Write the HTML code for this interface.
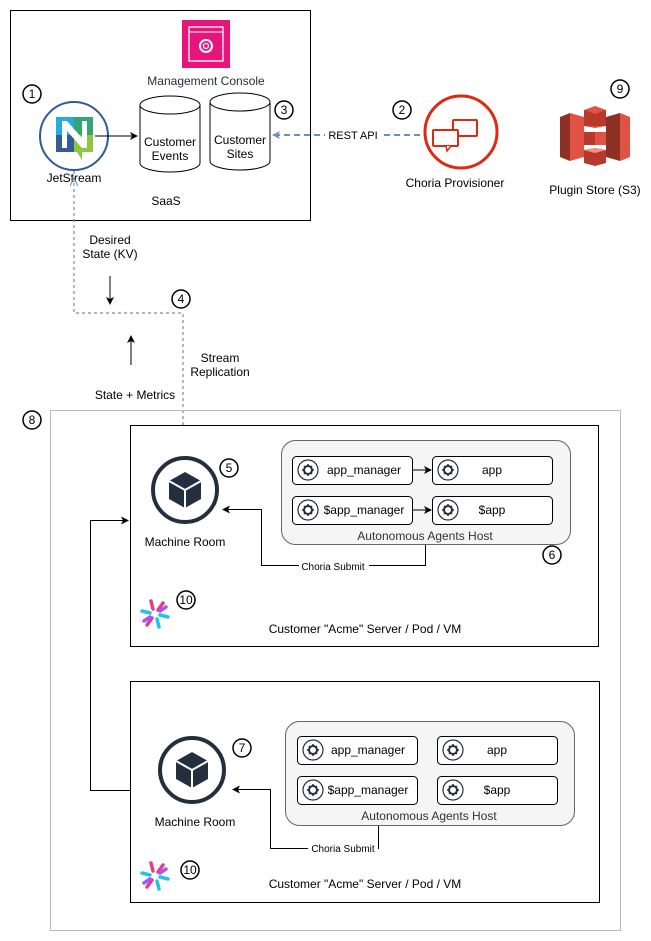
<!DOCTYPE html>
<html><head><meta charset="utf-8"><style>body{margin:0;background:#fff}svg{display:block}text{font-family:"Liberation Sans",sans-serif;font-size:12px;fill:#000}</style></head><body>
<svg width="651" height="941" viewBox="0 0 651 941" xmlns="http://www.w3.org/2000/svg">
<defs>
<marker id="a" markerWidth="8" markerHeight="8" refX="7" refY="4" orient="auto" markerUnits="userSpaceOnUse"><path d="M0,0 L8,4 L0,8 L2,4z" fill="#000"/></marker>
<marker id="b" markerWidth="8" markerHeight="8" refX="7" refY="4" orient="auto" markerUnits="userSpaceOnUse"><path d="M0,0 L8,4 L0,8 L2,4z" fill="#6c8ebf"/></marker>
<g id="gear"><circle r="10" fill="#fff" stroke="#232f3e" stroke-width="1.2"/><circle r="4" fill="none" stroke="#232f3e" stroke-width="2"/><path d="M0,-6V-4M0,4V6M-6,0H-4M4,0H6M-4,-4L-3,-3M3,3L4,4M-4,4L-3,3M3,-3L4,-4" stroke="#232f3e" stroke-width="1.5"/></g>
<g id="num"><circle r="9" fill="#fff" stroke="#000" stroke-width="1.5"/></g>
<g id="cube"><path d="M0,-18 L16,-9 L16,9 L0,18 L-16,9 L-16,-9Z" fill="#232f3e"/><path d="M-16,-9 L0,0 L16,-9 M0,0 V18" stroke="#fff" stroke-width="2" fill="none"/></g>
<g id="spark"><g stroke-width="3.5" stroke-linecap="round"><path d="M-13,-3 L-5,-1" stroke="#22c3e6"/><path d="M13,3 L5,1" stroke="#22c3e6"/><path d="M-4,-13 L-2,-5" stroke="#e13d8a"/><path d="M4,13 L2,5" stroke="#22c3e6"/><path d="M8,-11 L3,-4" stroke="#e13d8a"/><path d="M-8,11 L-3,4" stroke="#e13d8a"/><path d="M-11,7 L-5,3" stroke="#a855f7"/><path d="M11,-7 L5,-3" stroke="#a855f7"/></g></g>
</defs>
<!-- SaaS box -->
<rect x="10.5" y="10.5" width="300" height="210" fill="#fff" stroke="#000"/>
<rect x="182" y="20" width="48" height="48" fill="#e7157b"/>
<rect x="189" y="27" width="34" height="34" fill="none" stroke="#fff" stroke-width="1.3"/>
<path d="M189,32H223" stroke="#fff"/>
<circle cx="206" cy="46" r="6" fill="none" stroke="#fff" stroke-width="2"/>
<circle cx="206" cy="46" r="2.5" fill="none" stroke="#fff" stroke-width="1.3"/>
<text x="206" y="85" text-anchor="middle" style="fill:#232f3e">Management Console</text>
<use href="#num" x="32" y="94"/><text x="32" y="98" text-anchor="middle">1</text>
<circle cx="74" cy="136" r="34" fill="#fff" stroke="#2e5b9a" stroke-width="2"/>
<rect x="56" y="117" width="18" height="18" fill="#27aae1"/><rect x="74" y="117" width="19" height="18" fill="#34a574"/>
<rect x="56" y="135" width="18" height="17" fill="#375c93"/><path d="M74,135H93V152H82V160L77,152H74Z" fill="#8dc63f"/>
<path d="M62,121V148H67V131L82,148H87V121H82V138L67,121Z" fill="#fff"/>
<text x="74" y="182" text-anchor="middle">JetStream</text>
<path d="M95,136H137" stroke="#000" marker-end="url(#a)"/>
<g fill="#fff" stroke="#000"><path d="M140,105 V163 A30,9 0 0 0 200,163 V105"/><ellipse cx="170" cy="105" rx="30" ry="9"/>
<path d="M210,102 V161 A30,9 0 0 0 270,161 V102"/><ellipse cx="240" cy="102" rx="30" ry="9"/></g>
<text x="170" y="146" text-anchor="middle">Customer</text><text x="170" y="160" text-anchor="middle">Events</text>
<text x="240" y="144" text-anchor="middle">Customer</text><text x="240" y="158" text-anchor="middle">Sites</text>
<use href="#num" x="284" y="110"/><text x="284" y="114" text-anchor="middle">3</text>
<text x="166" y="205" text-anchor="middle">SaaS</text>
<!-- REST API -->
<path d="M420,135H273" stroke="#6c8ebf" stroke-width="2" stroke-dasharray="6,4" marker-end="url(#b)"/>
<rect x="325" y="128" width="56" height="14" fill="#fff"/>
<text x="353" y="139" text-anchor="middle" style="font-size:11px">REST API</text>
<use href="#num" x="402" y="110"/><text x="402" y="114" text-anchor="middle">2</text>
<circle cx="461" cy="132" r="36" fill="#fff" stroke="#dd2a12" stroke-width="3"/>
<rect x="453" y="120" width="24" height="16" rx="1" fill="#fff" stroke="#dd2a12" stroke-width="2"/>
<rect x="433" y="130" width="25" height="16" rx="1" fill="#fff" stroke="#dd2a12" stroke-width="2"/>
<path d="M446,146 L447,151 L451,146" fill="#fff" stroke="#dd2a12" stroke-width="1.5"/>
<text x="455" y="187" text-anchor="middle">Choria Provisioner</text>
<!-- S3 -->
<use href="#num" x="620" y="89"/><text x="620" y="93" text-anchor="middle">9</text>
<g>
<path d="M560,117 L570,113 V161 L560,157Z" fill="#8c3123"/><path d="M570,113 L584,117 V157 L570,161Z" fill="#e05243"/>
<path d="M630,117 L620,113 V161 L630,157Z" fill="#e05243"/><path d="M620,113 L606,117 V157 L620,161Z" fill="#8c3123"/>
<path d="M584,110 L595,106 L606,110 V126 L595,128 L584,126Z" fill="#e05243"/><path d="M584,110 L595,114 L606,110 V126 L584,126Z" fill="#b7392c"/>
<path d="M584,132 H606 V145 H584Z" fill="#e05243"/><path d="M584,132 H595 V145 H584Z" fill="#b7392c"/>
<path d="M584,150 L595,148 L606,150 V163 L595,166 L584,163Z" fill="#b7392c"/><path d="M584,150 L595,148 L606,150 L595,153Z" fill="#f58e7d"/>
</g>
<text x="595" y="194" text-anchor="middle">Plugin Store (S3)</text>
<!-- dotted stream -->
<path d="M74,171 V313 H183 V452" stroke="#6c8ebf" stroke-width="1.2" stroke-dasharray="3,3" fill="none"/>
<path d="M74,178 L70,186 M74,178 L78,186" stroke="#6c8ebf"/>
<path d="M183,455 L179,447 M183,455 L187,447" stroke="#6c8ebf" stroke-width="1.2"/>
<text x="110" y="244" text-anchor="middle">Desired</text><text x="110" y="258" text-anchor="middle">State (KV)</text>
<path d="M110,276V304" stroke="#000" marker-end="url(#a)"/>
<path d="M131,365V336" stroke="#000" marker-end="url(#a)"/>
<use href="#num" x="181" y="299"/><text x="181" y="303" text-anchor="middle">4</text>
<text x="220" y="362" text-anchor="middle">Stream</text><text x="220" y="376" text-anchor="middle">Replication</text>
<text x="135" y="399" text-anchor="middle">State + Metrics</text>
<use href="#num" x="32" y="420"/><text x="32" y="424" text-anchor="middle">8</text>
<!-- outer -->
<rect x="50.5" y="410.5" width="570" height="520" fill="none" stroke="#bbb"/>
<!-- box1 -->
<rect x="130.5" y="425.5" width="468" height="221" fill="#fff" stroke="#000"/>
<circle cx="185" cy="490" r="32" fill="#fff" stroke="#232f3e" stroke-width="4"/>
<use href="#cube" x="185" y="490"/>
<text x="185" y="546" text-anchor="middle">Machine Room</text>
<use href="#num" x="229" y="468"/><text x="229" y="472" text-anchor="middle">5</text>
<rect x="281.5" y="440.5" width="289" height="104" rx="14" fill="#f5f5f5" stroke="#666"/>
<g fill="#fff" stroke="#000"><rect x="292.5" y="456.5" width="120" height="28" rx="4"/><rect x="432.5" y="456.5" width="120" height="28" rx="4"/><rect x="292.5" y="496.5" width="120" height="28" rx="4"/><rect x="432.5" y="496.5" width="120" height="28" rx="4"/></g>
<use href="#gear" x="308" y="470"/><use href="#gear" x="448" y="470"/><use href="#gear" x="308" y="510"/><use href="#gear" x="448" y="510"/>
<text x="364" y="474" text-anchor="middle">app_manager</text><text x="492" y="474" text-anchor="middle">app</text>
<text x="364" y="514" text-anchor="middle">$app_manager</text><text x="492" y="514" text-anchor="middle">$app</text>
<path d="M413,470H431" stroke="#000" marker-end="url(#a)"/><path d="M413,510H431" stroke="#000" marker-end="url(#a)"/>
<text x="425" y="540" text-anchor="middle" style="fill:#333">Autonomous Agents Host</text>
<use href="#num" x="552" y="555"/><text x="552" y="559" text-anchor="middle">6</text>
<path d="M425.5,545V565.5H261.5V509.5H223" stroke="#000" fill="none" marker-end="url(#a)"/>
<rect x="299" y="560" width="70" height="12" fill="#fff"/>
<text x="333" y="570" text-anchor="middle" style="font-size:10px">Choria Submit</text>
<use href="#num" x="186" y="600"/><text x="186" y="604" text-anchor="middle">10</text>
<use href="#spark" x="155" y="614"/>
<text x="365" y="633" text-anchor="middle">Customer "Acme" Server / Pod / VM</text>
<!-- box2 -->
<rect x="130.5" y="681.5" width="469" height="221" fill="#fff" stroke="#000"/>
<circle cx="192" cy="770" r="32" fill="#fff" stroke="#232f3e" stroke-width="4"/>
<use href="#cube" x="192" y="770"/>
<text x="195" y="826" text-anchor="middle">Machine Room</text>
<use href="#num" x="242" y="748"/><text x="242" y="752" text-anchor="middle">7</text>
<rect x="285.5" y="721.5" width="289" height="104" rx="14" fill="#f5f5f5" stroke="#666"/>
<g fill="#fff" stroke="#000"><rect x="297.5" y="736.5" width="120" height="28" rx="4"/><rect x="437.5" y="736.5" width="120" height="28" rx="4"/><rect x="297.5" y="776.5" width="120" height="28" rx="4"/><rect x="437.5" y="776.5" width="120" height="28" rx="4"/></g>
<use href="#gear" x="313" y="750"/><use href="#gear" x="453" y="750"/><use href="#gear" x="313" y="790"/><use href="#gear" x="453" y="790"/>
<text x="368" y="754" text-anchor="middle">app_manager</text><text x="497" y="754" text-anchor="middle">app</text>
<text x="368" y="794" text-anchor="middle">$app_manager</text><text x="497" y="794" text-anchor="middle">$app</text>
<text x="429" y="820" text-anchor="middle" style="fill:#333">Autonomous Agents Host</text>
<path d="M378.5,826V848.5H270.5V789.5H233" stroke="#000" fill="none" marker-end="url(#a)"/>
<rect x="308" y="843" width="70" height="12" fill="#fff"/>
<text x="343" y="852" text-anchor="middle" style="font-size:10px">Choria Submit</text>
<use href="#num" x="190" y="870"/><text x="190" y="874" text-anchor="middle">10</text>
<use href="#spark" x="155" y="876"/>
<text x="365" y="888" text-anchor="middle">Customer "Acme" Server / Pod / VM</text>
<!-- left connector -->
<path d="M130,790.5H90.5V520.5H128" stroke="#000" fill="none" marker-end="url(#a)"/>
</svg>
</body></html>
